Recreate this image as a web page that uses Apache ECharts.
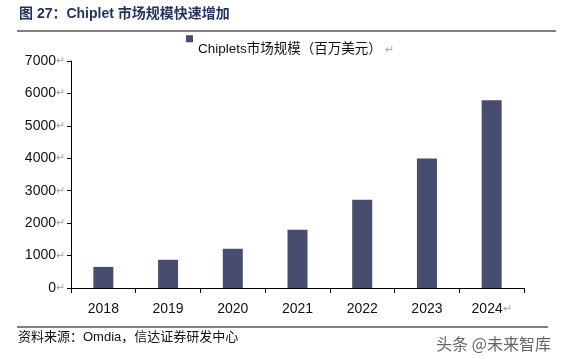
<!DOCTYPE html>
<html><head><meta charset="utf-8">
<script src="https://cdn.jsdelivr.net/npm/echarts@6/dist/echarts.min.js"></script>
<style>html,body{margin:0;padding:0;background:#fff}#c{width:561px;height:359px}</style>
</head><body><div id="c"></div>
<script>
const categories = ['2018','2019','2020','2021','2022','2023','2024'];
const marketSize = [650, 870, 1210, 1800, 2720, 3990, 5790];
const seriesName = 'Chiplets市场规模（百万美元）';
const titleText = '图 27：Chiplet 市场规模快速增加';
const sourceText = '资料来源：Omdia，信达证券研发中心';
const watermark = '头条 @未来智库';

const FONT = '"Liberation Sans", Arial, "Noto Sans CJK SC", sans-serif';
const chart = echarts.init(document.getElementById('c'));
chart.setOption({
  animation: false,
  backgroundColor: '#fff',
  textStyle: { fontFamily: FONT },
  grid: { left: 71, right: 37, top: 61, bottom: 71, containLabel: false },
  legend: {
    data: [seriesName],
    left: 181, top: 27,
    icon: 'rect', itemWidth: 7, itemHeight: 7, itemGap: 2,
    textStyle: {
      fontFamily: FONT, fontSize: 13.5, color: '#111',
      rich: {
        s: { height: 34, width: 0 },
        t: { fontSize: 13.5, color: '#111', lineHeight: 16, verticalAlign: 'bottom' },
        m: { fontSize: 11, color: '#aaa', lineHeight: 16, verticalAlign: 'bottom', padding: [0, 0, 0, 3] }
      }
    },
    formatter: n => '{s|}{t|' + n + '}{m|↵}'
  },
  xAxis: {
    type: 'category', data: categories,
    axisLine: { lineStyle: { color: '#000', width: 1 } },
    axisTick: { show: true, alignWithLabel: false, length: 5, inside: false, lineStyle: { color: '#000' } },
    axisLabel: {
      interval: 0, margin: 14, fontSize: 14, color: '#111', fontFamily: FONT,
      formatter: (v, i) => i === categories.length - 1 ? '{a|' + v + '}{m|↵}' : '{a|' + v + '}',
      rich: { a: { fontSize: 14, color: '#111' }, m: { fontSize: 11, color: '#aaa' } }
    }
  },
  yAxis: {
    type: 'value', min: 0, max: 7000, interval: 1000,
    axisLine: { show: true, lineStyle: { color: '#000', width: 1 } },
    axisTick: { show: true, length: 4, lineStyle: { color: '#000' } },
    splitLine: { show: false },
    axisLabel: {
      margin: 6, fontSize: 14, color: '#111', fontFamily: FONT,
      formatter: v => '{a|' + v + '}{m|↵}',
      rich: { a: { fontSize: 14, color: '#111' }, m: { fontSize: 11, color: '#aaa' } }
    }
  },
  series: [{
    name: seriesName, type: 'bar', data: marketSize, barWidth: 20,
    itemStyle: { color: '#474E6D' }
  }],
  graphic: [
    { type: 'text', left: 19, top: 7, style: { text: titleText, font: 'bold 14px ' + FONT, fill: '#22355E' } },
    { type: 'line', shape: { x1: 17, y1: 31, x2: 556, y2: 31 }, style: { stroke: '#000', lineWidth: 1 } },
    { type: 'line', shape: { x1: 17, y1: 327, x2: 548, y2: 327 }, style: { stroke: '#000', lineWidth: 1 } },
    { type: 'text', left: 18, top: 331, style: { text: sourceText, font: '13px ' + FONT, fill: '#111' } },
    { type: 'text', right: 10, top: 336, style: { text: watermark, font: '16px "Noto Sans CJK SC", sans-serif', fill: '#666' } }
  ]
});
</script></body></html>
